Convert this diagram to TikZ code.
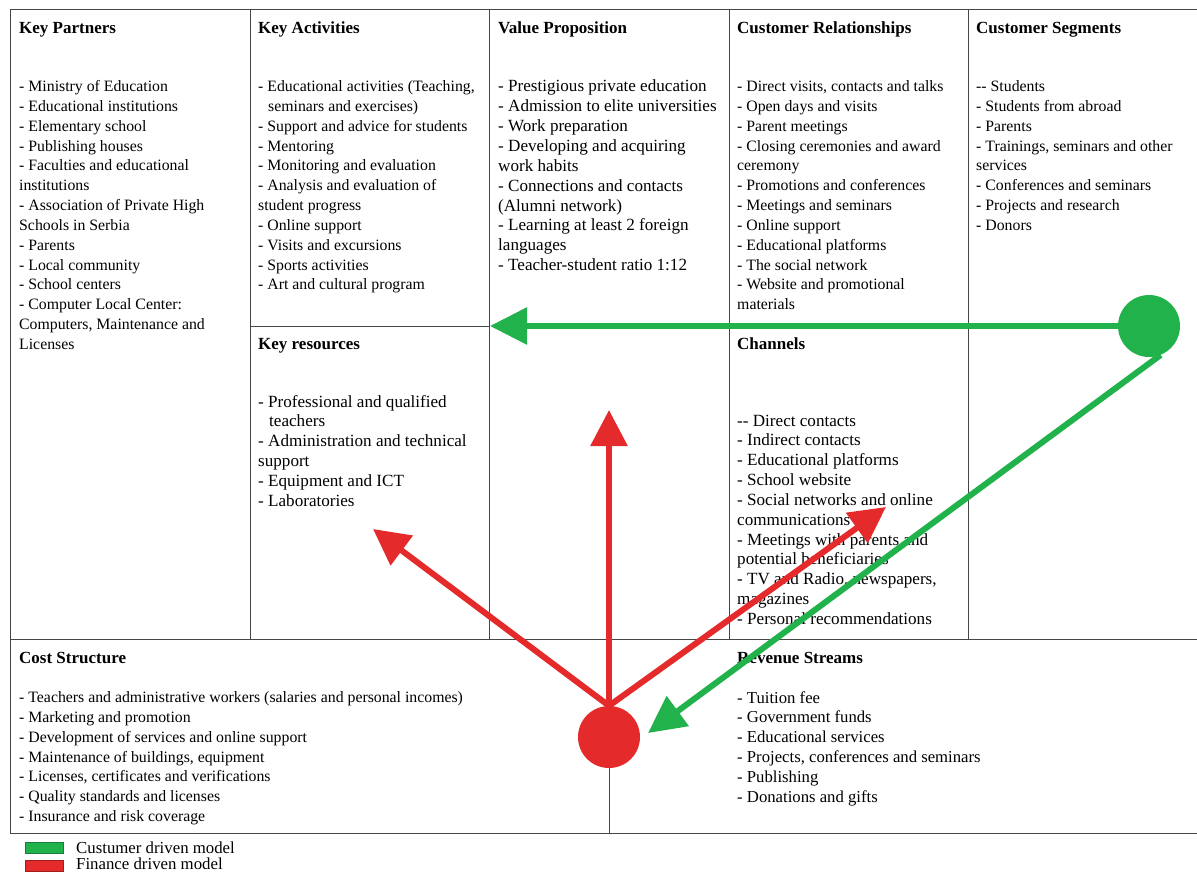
\documentclass[tikz,border=0pt]{standalone}
\usepackage{fontspec}
\setmainfont{Liberation Serif}
\usetikzlibrary{arrows.meta}
\definecolor{cgreen}{RGB}{34,178,76}
\definecolor{cred}{RGB}{228,42,42}
\definecolor{gridc}{RGB}{70,70,70}
\newcommand{\bmclist}[2][15.8]{\parbox[t]{500pt}{\fontsize{#1}{19.85}\selectfont\raggedright #2}}
\tikzset{
  gridline/.style={draw=gridc, line width=1pt},
  titletext/.style={anchor=base west, inner sep=0pt, font=\fontsize{17}{18}\selectfont\bfseries},
  bodytext/.style={anchor=base west, inner sep=0pt},
  legendtext/.style={anchor=base west, inner sep=0pt, font=\fontsize{16.8}{18}\selectfont},
  bigdot/.style={circle, inner sep=0pt, minimum size=62pt},
  greenarrow/.style={draw=cgreen, line width=6pt, -{Triangle[length=37pt,width=36pt]}},
  redarrow/.style={draw=cred, line width=6pt, -{Triangle[length=36pt,width=36pt]}},
}
\begin{document}
\begin{tikzpicture}[x=1pt,y=-1pt]
\useasboundingbox[fill=white] (0,0) rectangle (1197,872);
% grid
\draw[gridline] (10,10) -- (1197,10);
\draw[gridline] (10,639) -- (1197,639);
\draw[gridline] (10,833) -- (1197,833);
\draw[gridline] (10,10) -- (10,833);
\draw[gridline] (250,10) -- (250,639);
\draw[gridline] (489,10) -- (489,639);
\draw[gridline] (729,10) -- (729,639);
\draw[gridline] (968,10) -- (968,639);
\draw[gridline] (250,326) -- (489,326);
\draw[gridline] (729,326) -- (968,326);
\draw[gridline] (609,639) -- (609,833);
% titles
\node[titletext] (tkp) at (19,34) {Key Partners};
\node[titletext] (tka) at (258,34) {Key Activities};
\node[titletext] (tvp) at (498,34) {Value Proposition};
\node[titletext] (tcr) at (737,34) {Customer Relationships};
\node[titletext] (tcs) at (976,34) {Customer Segments};
\node[titletext] (tkr) at (258,349) {Key resources};
\node[titletext] (tch) at (737,349) {Channels};
\node[titletext] (tco) at (19,663) {Cost Structure};
\node[titletext] (trs) at (737,663) {Revenue Streams};
% lists
\node[bodytext] (lkp) at (19,91.5) {\bmclist{- Ministry of Education\\
- Educational institutions\\
- Elementary school\\
- Publishing houses\\
- Faculties and educational\\
institutions\\
- Association of Private High\\
Schools in Serbia\\
- Parents\\
- Local community\\
- School centers\\
- Computer Local Center:\\
Computers, Maintenance and\\
Licenses}};
\node[bodytext] (lka) at (258,91.5) {\bmclist{- Educational activities (Teaching,\\
\hspace*{10pt}seminars and exercises)\\
- Support and advice for students\\
- Mentoring\\
- Monitoring and evaluation\\
- Analysis and evaluation of\\
student progress\\
- Online support\\
- Visits and excursions\\
- Sports activities\\
- Art and cultural program}};
\node[bodytext] (lvp) at (498,92) {\bmclist[17.1]{- Prestigious private education\\
- Admission to elite universities\\
- Work preparation\\
- Developing and acquiring\\
work habits\\
- Connections and contacts\\
(Alumni network)\\
- Learning at least 2 foreign\\
languages\\
- Teacher-student ratio 1:12}};
\node[bodytext] (lcr) at (737,91.5) {\bmclist{- Direct visits, contacts and talks\\
- Open days and visits\\
- Parent meetings\\
- Closing ceremonies and award\\
ceremony\\
- Promotions and conferences\\
- Meetings and seminars\\
- Online support\\
- Educational platforms\\
- The social network\\
- Website and promotional\\
materials}};
\node[bodytext] (lcs) at (976,91.5) {\bmclist{-{}- Students\\
- Students from abroad\\
- Parents\\
- Trainings, seminars and other\\
services\\
- Conferences and seminars\\
- Projects and research\\
- Donors}};
\node[bodytext] (lkr) at (258,407) {\bmclist[17.1]{- Professional and qualified\\
\hspace*{11pt}teachers\\
- Administration and technical\\
support\\
- Equipment and ICT\\
- Laboratories}};
\node[bodytext] (lch) at (737,426) {\bmclist[17.1]{-{}- Direct contacts\\
- Indirect contacts\\
- Educational platforms\\
- School website\\
- Social networks and online\\
communications\\
- Meetings with parents and\\
potential beneficiaries\\
- TV and Radio, newspapers,\\
magazines\\
- Personal recommendations}};
\node[bodytext] (lco) at (19,702.5) {\bmclist{- Teachers and administrative workers (salaries and personal incomes)\\
- Marketing and promotion\\
- Development of services and online support\\
- Maintenance of buildings, equipment\\
- Licenses, certificates and verifications\\
- Quality standards and licenses\\
- Insurance and risk coverage}};
\node[bodytext] (lrs) at (737,703) {\bmclist[16.7]{- Tuition fee\\
- Government funds\\
- Educational services\\
- Projects, conferences and seminars\\
- Publishing\\
- Donations and gifts}};
% legend
\node[fill=cgreen, draw=cgreen!70!black, line width=0.4pt, minimum width=38pt, minimum height=11pt, inner sep=0pt] (lg) at (44,847.5) {};
\node[fill=cred, draw=cred!70!black, line width=0.4pt, minimum width=38pt, minimum height=11pt, inner sep=0pt] (lr) at (44,865.5) {};
\node[legendtext] (lgt) at (76,853.5) {Custumer driven model};
\node[legendtext] (lrt) at (76,869) {Finance driven model};
% circles and arrows
\node[bigdot, fill=cgreen] (gc) at (1149,326) {};
\node[bigdot, fill=cred] (rc) at (609,737) {};
\coordinate (gtipH) at (490,326);
\coordinate (gtipD) at (648,733);
\coordinate (rtipU) at (609,410);
\coordinate (rtipL) at (373,529);
\coordinate (rtipR) at (886,507);
\draw[greenarrow] (gc.west) -- (gtipH);
\draw[greenarrow] (gc.-68) -- (gtipD);
\draw[redarrow] (rc.north) -- (rtipU);
\draw[redarrow] (rc.north) -- (rtipL);
\draw[redarrow] (rc.north) -- (rtipR);
\end{tikzpicture}
\end{document}
